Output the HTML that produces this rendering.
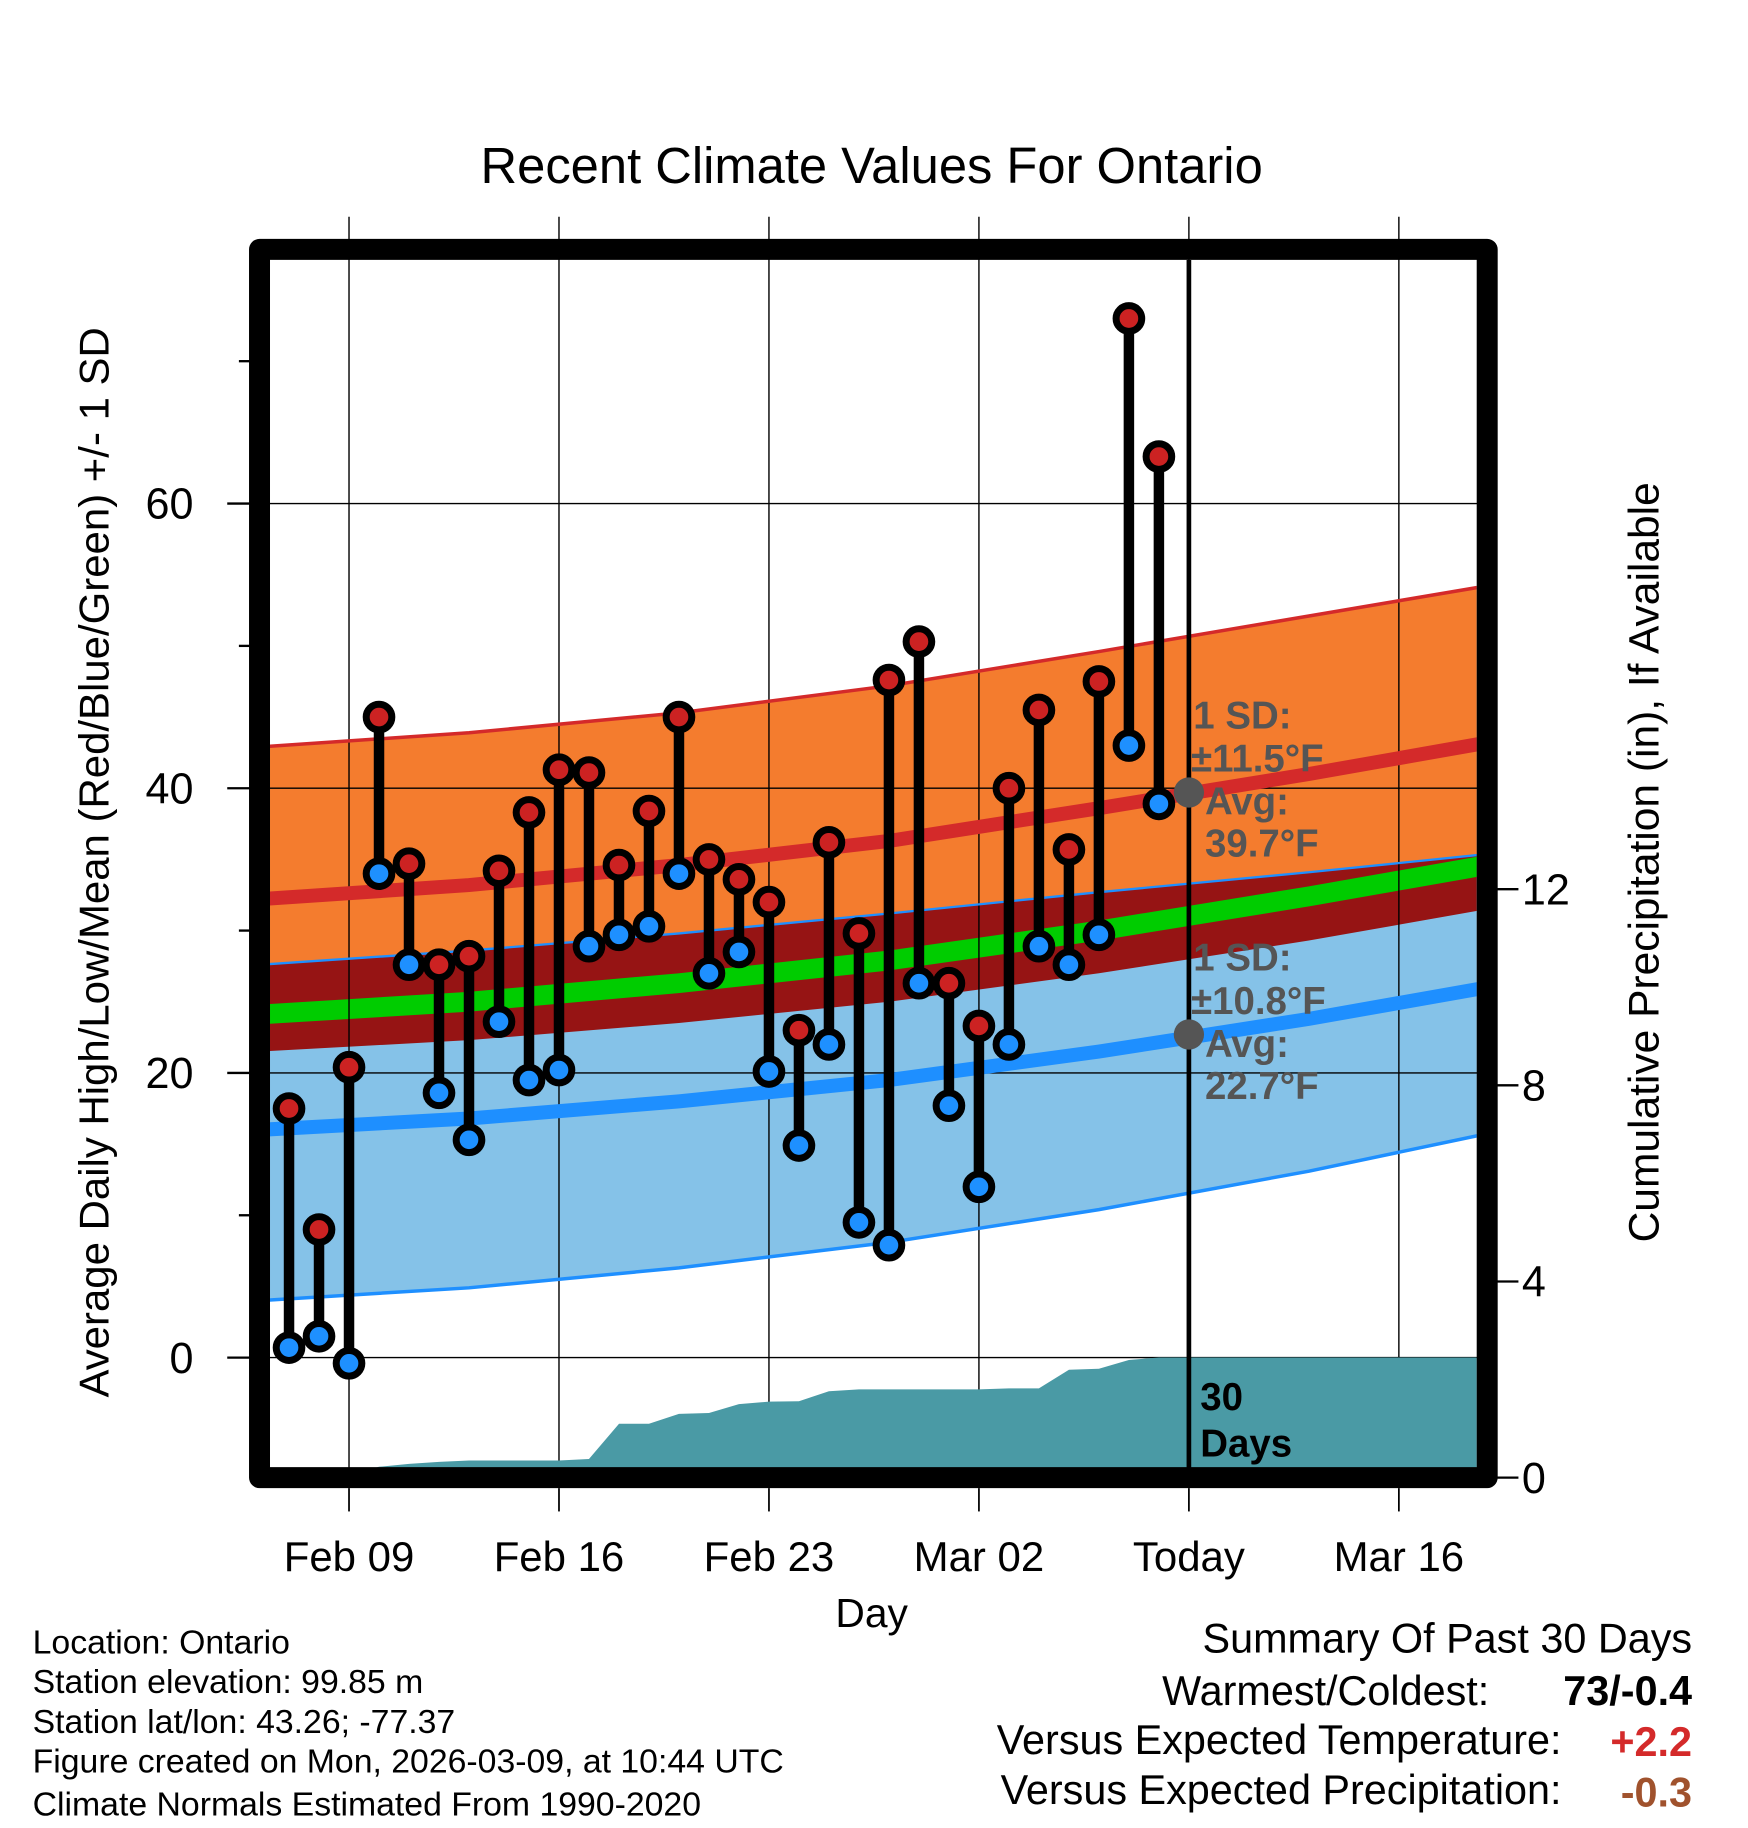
<!DOCTYPE html>
<html><head><meta charset="utf-8"><style>
html,body{margin:0;padding:0;background:#fff}
svg{display:block}
text{font-family:"Liberation Sans",Arial,sans-serif}
</style></head><body>
<svg id="chart" xmlns="http://www.w3.org/2000/svg" width="1748" height="1828" viewBox="0 0 1500 1568.65">
<rect width="1500" height="1568.65" fill="#fff"/>
<defs><clipPath id="plotclip"><rect x="231.7" y="223" width="1035.5" height="1037"/></clipPath></defs>
<g id="bands" clip-path="url(#plotclip)"></g>
<g id="grid"></g>
<g id="precip" clip-path="url(#plotclip)"></g>
<g id="lines" clip-path="url(#plotclip)"></g>
<g id="bars"></g>
<g id="annot"></g>
<rect x="222.7" y="214" width="1053.5" height="1054" fill="none" stroke="#000" stroke-width="18" stroke-linejoin="round"/>
<g id="axes"></g>
<text x="748" y="157" font-size="43.5" text-anchor="middle">Recent Climate Values For Ontario</text>
<text x="748" y="1396" font-size="35" text-anchor="middle">Day</text>
<text transform="translate(93,740) rotate(-90)" font-size="36" text-anchor="middle">Average Daily High/Low/Mean (Red/Blue/Green) +/- 1 SD</text>
<text transform="translate(1423,740) rotate(-90)" font-size="36.5" text-anchor="middle">Cumulative Precipitation (in), If Available</text>
<g font-size="29">
<text x="28" y="1419">Location: Ontario</text>
<text x="28" y="1453">Station elevation: 99.85 m</text>
<text x="28" y="1487">Station lat/lon: 43.26; -77.37</text>
<text x="28" y="1521">Figure created on Mon, 2026-03-09, at 10:44 UTC</text>
<text x="28" y="1558">Climate Normals Estimated From 1990-2020</text>
</g>
<g font-size="35.5">
<text x="1452" y="1418" text-anchor="end">Summary Of Past 30 Days</text>
<text x="1278" y="1463" text-anchor="end">Warmest/Coldest:</text>
<text x="1452" y="1463" text-anchor="end" font-weight="bold">73/-0.4</text>
<text x="1340" y="1505" text-anchor="end">Versus Expected Temperature:</text>
<text x="1452" y="1507" text-anchor="end" font-weight="bold" fill="#d42a2a">+2.2</text>
<text x="1340" y="1548" text-anchor="end">Versus Expected Precipitation:</text>
<text x="1452" y="1550" text-anchor="end" font-weight="bold" fill="#a0522d">-0.3</text>
</g>
</svg>
<script>
// Observed daily data, Feb 07 .. Mar 08 (day offset relative to Feb 09)
const obsDays = [-2,-1,0,1,2,3,4,5,6,7,8,9,10,11,12,13,14,15,16,17,18,19,20,21,22,23,24,25,26,27];
const highs = [17.5,9,20.4,45,34.7,27.6,28.2,34.2,38.3,41.3,41.1,34.6,38.4,45,35,33.6,32,23,36.2,29.8,47.6,50.3,26.3,23.3,40,45.5,35.7,47.5,73,63.3];
const lows = [0.7,1.5,-0.4,34,27.6,18.6,15.3,23.6,19.5,20.2,28.9,29.7,30.3,34,27,28.5,20.1,14.9,22,9.5,7.9,26.3,17.7,12,22,28.9,27.6,29.7,43,38.9];
const precipCum = [0,0,0.05,0.22,0.28,0.32,0.35,0.35,0.35,0.35,0.38,1.1,1.1,1.3,1.32,1.5,1.55,1.56,1.76,1.8,1.8,1.8,1.8,1.8,1.82,1.82,2.2,2.22,2.4,2.45];
// Climate normals at weekly points (Feb 06 .. Mar 20)
const normDays = [-3,4,11,18,25,32,39];
const hiAvg = [32.2,33.2,34.6,36.3,38.6,41.0,43.6];
const hiUpper = [42.9,43.9,45.3,47.2,49.6,52.1,54.6];
const loAvg = [16.0,16.8,18.0,19.5,21.5,23.8,26.4];
const loUpper = [27.6,28.6,29.8,31.2,32.7,34.1,35.6];
const loLower = [4.0,4.9,6.3,8.1,10.4,13.1,16.2];
const meanAvg = [24.1,25.0,26.3,27.9,30.0,32.4,35.0];
const meanLower = [21.5,22.3,23.5,25.0,27.0,29.3,31.9];
const xTickDays = [0,7,14,21,28,35];
const xTickLabels = ["Feb 09","Feb 16","Feb 23","Mar 02","Today","Mar 16"];
const yTicks = [0,20,40,60];
const yMinor = [10,30,50,70];
const y2Ticks = [0,4,8,12];
const todayDay = 28;
const todayHi = 39.7, todayLo = 22.7;

const NS="http://www.w3.org/2000/svg";
const xs = d => 299.5 + d*25.74;
const ys = v => 1165 - v*12.215;
const yp = v => 1268 - v*42.08;
function mk(tag, attrs, parent){const e=document.createElementNS(NS,tag);for(const k in attrs)e.setAttribute(k,attrs[k]);parent.appendChild(e);return e;}
const G = id => document.getElementById(id);
function pts(days, vals, f){return days.map((d,i)=>xs(d).toFixed(1)+","+f(vals[i]).toFixed(1));}
function band(upper, lower, fill, name){
  const p = pts(normDays, upper, ys).concat(pts(normDays, lower, ys).reverse());
  const e = mk('polygon',{points:p.join(' '),fill:fill},G('bands'));
  
  
}
band(hiUpper, loUpper, '#f47c2e', 'high-sd-band');
band(loUpper, loLower, '#85c2e8', 'low-sd-band');
band(loUpper, meanLower, '#961414', 'mean-band');
function line(vals, stroke, w, name, parent){
  const e = mk('polyline',{points:pts(normDays, vals, ys).join(' '),fill:'none',stroke:stroke,'stroke-width':w},parent||G('lines'));
  
  
}
line(meanAvg, '#00cc00', 17, 'mean-line', G('bands'));
// grid
yTicks.forEach(v=>{mk('line',{x1:231,x2:1268,y1:ys(v),y2:ys(v),stroke:'#000','stroke-width':1.2},G('grid'));});
xTickDays.forEach(d=>{mk('line',{x1:xs(d),x2:xs(d),y1:186,y2:1260,stroke:'#000','stroke-width':1.2},G('grid'));});
// precip
{
  const d = obsDays.concat([40]);
  const v = precipCum.concat([precipCum[precipCum.length-1]]);
  const p = [xs(d[0]).toFixed(1)+","+yp(0)].concat(pts(d, v, yp)).concat([xs(40).toFixed(1)+","+yp(0)]);
  const e = mk('polygon',{points:p.join(' '),fill:'#4a9aa5'},G('precip'));
  
  
}
line(hiUpper, '#d42a2a', 3, 'high-upper-sd-line');
line(loUpper, '#1e8fff', 2, 'low-upper-sd-line');
line(loLower, '#1e8fff', 3, 'low-lower-sd-line');
line(hiAvg, '#d42a2a', 12, 'avg-high-line');
line(loAvg, '#1e8fff', 12, 'avg-low-line');
// today line
{
  const e = mk('line',{x1:xs(todayDay),x2:xs(todayDay),y1:223,y2:1260,stroke:'#000','stroke-width':4},G('lines'));
  
  
}
// bars
obsDays.forEach((d,i)=>{
  const g = mk('g',{},G('bars'));
  
  
  const x = xs(d);
  mk('line',{x1:x,x2:x,y1:ys(highs[i]),y2:ys(lows[i]),stroke:'#000','stroke-width':9},g);
  mk('circle',{cx:x,cy:ys(highs[i]),r:11,fill:'#cc2222',stroke:'#000','stroke-width':6},g);
  mk('circle',{cx:x,cy:ys(lows[i]),r:11,fill:'#1e90ff',stroke:'#000','stroke-width':6},g);
});
// today markers & annotations
[todayHi,todayLo].forEach(v=>{
  const e = mk('circle',{cx:xs(todayDay),cy:ys(v),r:13,fill:'#555'},G('annot'));
  
  
});
function at(x,y,t,fill,name){const e=mk('text',{x:x,y:y,'font-size':33,'font-weight':'bold',fill:fill},G('annot'));e.textContent=t;}
at(1024,625,'1 SD:','#555','high-sd-label');
at(1022,662,'±11.5°F','#555','high-sd-value');
at(1034,699,'Avg:','#555','high-avg-label');
at(1034,735,todayHi.toFixed(1)+'°F','#555','high-avg-value');
at(1024,833,'1 SD:','#555','low-sd-label');
at(1022,870,'±10.8°F','#555','low-sd-value');
at(1034,907,'Avg:','#555','low-avg-label');
at(1034,943,todayLo.toFixed(1)+'°F','#555','low-avg-value');
at(1030,1210,'30','#000','days-count');
at(1030,1250,'Days','#000','days-label');
// axes ticks & labels
const A = G('axes');
yTicks.forEach(v=>{
  mk('line',{x1:195,x2:214,y1:ys(v),y2:ys(v),stroke:'#000','stroke-width':2},A);
  const t = mk('text',{x:166,y:ys(v)+13,'font-size':37,'text-anchor':'end'},A);
  t.textContent = v;
  
  
});
yMinor.forEach(v=>{mk('line',{x1:205,x2:214,y1:ys(v),y2:ys(v),stroke:'#000','stroke-width':2},A);});
y2Ticks.forEach(v=>{
  mk('line',{x1:1285,x2:1303,y1:yp(v),y2:yp(v),stroke:'#000','stroke-width':2},A);
  const t = mk('text',{x:1306,y:yp(v)+13,'font-size':37},A);
  t.textContent = v;
  
  
});
xTickDays.forEach((d,i)=>{
  mk('line',{x1:xs(d),x2:xs(d),y1:1277,y2:1297,stroke:'#000','stroke-width':1.5},A);
  const t = mk('text',{x:xs(d),y:1348,'font-size':36,'text-anchor':'middle'},A);
  t.textContent = xTickLabels[i];
  
  
});
</script>
</body></html>
